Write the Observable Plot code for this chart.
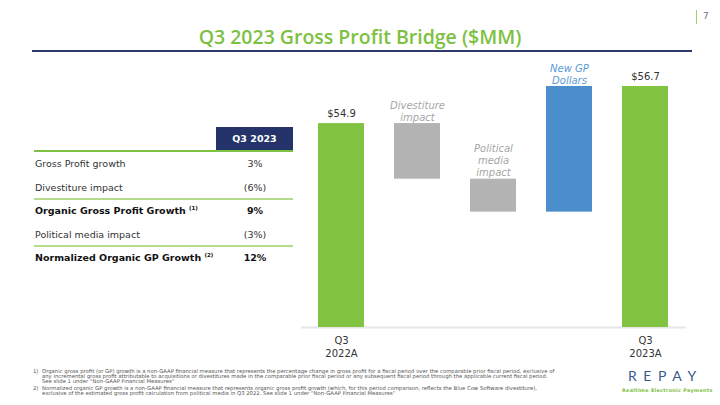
<!DOCTYPE html>
<html><head><meta charset="utf-8">
<script src="https://cdn.jsdelivr.net/npm/d3@7"></script>
<script src="https://cdn.jsdelivr.net/npm/@observablehq/plot@0.6"></script>
<style>
body{margin:0;background:#fff;font-family:"DejaVu Sans",sans-serif;}
#page{position:relative;width:720px;height:405px;overflow:hidden;background:#fff;}
.abs{position:absolute;white-space:nowrap;}
#title{left:0;width:720px;top:23px;text-align:center;color:#7dc142;font:600 19.5px "Open Sans",sans-serif;}
#rule{left:32px;width:660px;top:50px;height:1.5px;background:#2e3a6e;}
#pbar{left:696px;top:10px;width:1px;height:14px;background:#9fd069;}
#pnum{left:703px;top:11px;font:9px "DejaVu Sans";color:#6a7393;}
.cell{font-size:9.5px;color:#333;transform:translateY(-50%);}
.bold{font-weight:bold;color:#111;}
.val{width:78px;text-align:center;}
sup{font-size:5.5px;vertical-align:4px;}
.line{height:1.5px;}
#notes{left:33px;top:369px;font:5.3px "DejaVu Sans";color:#555;line-height:4.8px;}
#logo{left:628px;top:367px;font:400 14px "Lato";letter-spacing:6.6px;color:#3a5a8c;}
#tag{left:622px;top:387px;font:bold 4.9px "DejaVu Sans";color:#7dc142;letter-spacing:0.3px;}
#chart{left:280px;top:60px;}
</style></head>
<body><div id="page">
<div id="title" class="abs">Q3 2023 Gross Profit Bridge ($MM)</div>
<div id="rule" class="abs"></div>
<div id="pbar" class="abs"></div>
<div id="pnum" class="abs">7</div>
<div id="table"></div>
<div id="chart" class="abs"></div>
<div id="notes" class="abs"></div>
<div id="logo" class="abs">REPAY</div>
<div id="tag" class="abs">Realtime Electronic Payments</div>
</div>
<script>
// ---- chart data ----
const categories = ["Q3 2022A", "Divestiture impact", "Political media impact", "New GP Dollars", "Q3 2023A"];
const kinds = ["total", "delta", "delta", "delta", "total"];
const values = [54.9, -2.7, -1.6, 6.1, 56.7];
const valueLabels = ["$54.9", "", "", "", "$56.7"];
const annotations = ["", "Divestiture\nimpact", "Political\nmedia\nimpact", "New GP\nDollars", ""];
const axisLabels = ["Q3\n2022A", "", "", "", "Q3\n2023A"];
const barColors = ["#82c341", "#b3b3b3", "#b3b3b3", "#4a8fcc", "#82c341"];
const annColors = ["#a6a6a6", "#a6a6a6", "#a6a6a6", "#5b9bd5", "#a6a6a6"];
const yBase = 45;
const yTop = 56.7;

// ---- table data ----
const tableHeader = "Q3 2023";
const tableRows = ["Gross Profit growth", "Divestiture impact", "Organic Gross Profit Growth", "Political media impact", "Normalized Organic GP Growth"];
const tableValues = ["3%", "(6%)", "9%", "(3%)", "12%"];
const tableBold = [false, false, true, false, true];
const tableNotes = ["", "", "(1)", "", "(2)"];
const tableLineAfter = [false, true, false, true, false];

// ---- footnotes ----
const footnotes = [
  ["1)", ["Organic gross profit (or GP) growth is a non-GAAP financial measure that represents the percentage change in gross profit for a fiscal period over the comparable prior fiscal period, exclusive of",
          "any incremental gross profit attributable to acquisitions or divestitures made in the comparable prior fiscal period or any subsequent fiscal period through the applicable current fiscal period.",
          "See slide 1 under \u201cNon-GAAP Financial Measures\u201d"]],
  ["2)", ["Normalized organic GP growth is a non-GAAP financial measure that represents organic gross profit growth (which, for this period comparison, reflects the Blue Cow Software divestiture),",
          "exclusive of the estimated gross profit calculation from political media in Q3 2022. See slide 1 under \u201cNon-GAAP Financial Measures\u201d"]]
];

// ---- build table ----
const tbl = document.getElementById("table");
function add(html, style, cls) {
  const d = document.createElement("div");
  d.className = "abs " + (cls || "");
  d.innerHTML = html;
  Object.assign(d.style, style);
  tbl.appendChild(d);
  return d;
}
add(tableHeader, {left: "216px", top: "127px", width: "77px", height: "23px", background: "#24346b", color: "#fff", fontWeight: "bold", fontSize: "9.5px", lineHeight: "23px", textAlign: "center"});
add("", {left: "34px", top: "150px", width: "259px", background: "#7dc142"}, "line");
const rowTop = 163, rowStep = 23.6;
tableRows.forEach((r, i) => {
  const y = rowTop + i * rowStep;
  const cls = "cell" + (tableBold[i] ? " bold" : "");
  add(r + (tableNotes[i] ? " <sup>" + tableNotes[i] + "</sup>" : ""), {left: "35px", top: y + "px"}, cls);
  add(tableValues[i], {left: "216px", top: y + "px"}, cls + " val");
  if (tableLineAfter[i]) add("", {left: "34px", top: (y + 11.5) + "px", width: "259px", background: "#b5dc8a"}, "line");
});

// ---- footnotes ----
const notes = document.getElementById("notes");
let nh = "";
footnotes.forEach(([k, lines], j) => {
  nh += `<div style="position:relative;padding-left:9px;margin-bottom:${j === 0 ? 3 : 0}px"><span style="position:absolute;left:0">${k}</span>${lines.join("<br>")}</div>`;
});
notes.innerHTML = nh;

// ---- waterfall rows ----
let running = 0;
const rows = categories.map((c, i) => {
  let y1, y2;
  if (kinds[i] === "total") { y1 = yBase; y2 = values[i]; running = values[i]; }
  else { y1 = running; y2 = running + values[i]; running = y2; }
  return {cat: c, y1, y2, top: Math.max(y1, y2), color: barColors[i], label: valueLabels[i], ann: annotations[i], annColor: annColors[i], axis: axisLabels[i]};
});
const axisMap = new Map(rows.map(d => [d.cat, d.axis]));

const chart = Plot.plot({
  width: 430, height: 310,
  marginLeft: 6, marginRight: 9, marginTop: 26, marginBottom: 43,
  style: {fontFamily: "DejaVu Sans, sans-serif", background: "transparent"},
  x: {domain: categories, padding: 0.39, axis: null},
  y: {domain: [yBase, yTop], axis: null},
  color: {type: "identity"},
  marks: [
    Plot.ruleY([yBase], {stroke: "#e6e6e6", strokeWidth: 2, insetLeft: 15, insetRight: 15}),
    Plot.barY(rows, {x: "cat", y1: "y1", y2: "y2", fill: "color"}),
    Plot.text(rows.filter(d => d.label), {x: "cat", y: "top", text: "label", dy: -10, fill: "#333", fontSize: 10}),
    Plot.text(rows.filter(d => d.ann), {x: "cat", y: "top", text: "ann", dy: -3, lineAnchor: "bottom", fill: "annColor", fontSize: 10, fontStyle: "italic", lineHeight: 1.2}),
    Plot.axisX({tickSize: 0, tickPadding: 7, tickFormat: d => axisMap.get(d), fill: "#333", fontSize: 10, lineHeight: 1.3, label: null})
  ]
});
document.getElementById("chart").appendChild(chart);
</script>
</body></html>
